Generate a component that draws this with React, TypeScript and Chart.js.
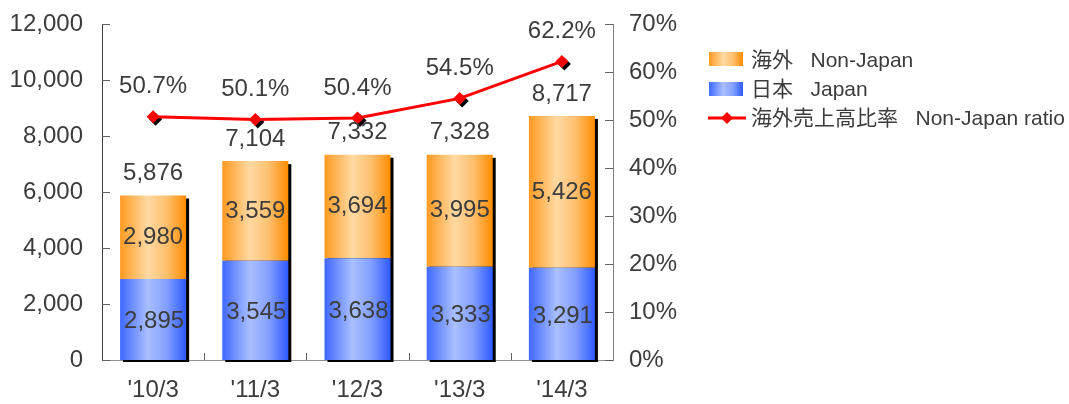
import React, { useEffect, useRef } from "react";
import { Chart, registerables } from "chart.js";

Chart.register(...registerables);

const categories = ["'10/3", "'11/3", "'12/3", "'13/3", "'14/3"];
const japan = [2895, 3545, 3638, 3333, 3291];
const nonJapan = [2980, 3559, 3694, 3995, 5426];
const totals = [5876, 7104, 7332, 7328, 8717];
const ratio = [50.7, 50.1, 50.4, 54.5, 62.2];
const ratioLabels = ["50.7%", "50.1%", "50.4%", "54.5%", "62.2%"];
const seriesNames = ["海外   Non-Japan", "日本   Japan", "海外売上高比率   Non-Japan ratio"];

const FONT = "'Liberation Sans', Arial, 'Noto Sans CJK JP', sans-serif";
const TEXT = "#3c3c3c";

const fmt = (v: number) => v.toLocaleString("en-US");

function barGradient(chart: any, idx: number, stops: [number, string][]) {
  const area = chart.chartArea;
  const xs = chart.scales.x;
  if (!area || !xs) return stops[0][1];
  const cx = xs.getPixelForValue(idx);
  const w = (area.right - area.left) / categories.length * 0.646;
  const g = chart.ctx.createLinearGradient(cx - w / 2, 0, cx + w / 2, 0);
  stops.forEach(([o, c]) => g.addColorStop(o, c));
  return g;
}

const orangeStops: [number, string][] = [
  [0, "#FF9A20"],
  [0.42, "#FFD9A2"],
  [0.7, "#FFC070"],
  [1, "#FF8C00"],
];
const blueStops: [number, string][] = [
  [0, "#3F68FF"],
  [0.42, "#A9BFFF"],
  [0.7, "#84A0FF"],
  [1, "#2F5BFF"],
];

const decorPlugin = {
  id: "decor",
  beforeDatasetsDraw(chart: any) {
    const ctx = chart.ctx;
    const mJ = chart.getDatasetMeta(1);
    const mN = chart.getDatasetMeta(2);
    ctx.save();
    ctx.fillStyle = "#000";
    mN.data.forEach((top: any, i: number) => {
      const bot = mJ.data[i];
      const w = top.width;
      ctx.fillRect(top.x - w / 2 + 3, top.y + 3, w, bot.base - top.y - 1);
    });
    ctx.restore();
  },
  beforeDatasetDraw(chart: any, args: any) {
    if (args.index !== 0) return;
    const ctx = chart.ctx;
    const meta = chart.getDatasetMeta(0);
    ctx.save();
    ctx.fillStyle = "#000";
    meta.data.forEach((p: any) => {
      const r = 6.5;
      const x = p.x + 2.5;
      const y = p.y + 2.5;
      ctx.beginPath();
      ctx.moveTo(x, y - r);
      ctx.lineTo(x + r, y);
      ctx.lineTo(x, y + r);
      ctx.lineTo(x - r, y);
      ctx.closePath();
      ctx.fill();
    });
    ctx.restore();
  },
  afterDatasetsDraw(chart: any) {
    const ctx = chart.ctx;
    const area = chart.chartArea;
    const ys = chart.scales.y;
    const y1 = chart.scales.y1;
    ctx.save();
    ctx.strokeStyle = "#606060";
    ctx.lineWidth = 1;
    ys.ticks.forEach((t: any) => {
      const py = Math.round(ys.getPixelForValue(t.value)) + 0.5;
      ctx.beginPath();
      ctx.moveTo(area.left, py);
      ctx.lineTo(area.left + 8, py);
      ctx.stroke();
    });
    y1.ticks.forEach((t: any) => {
      const py = Math.round(y1.getPixelForValue(t.value)) + 0.5;
      ctx.beginPath();
      ctx.moveTo(area.right, py);
      ctx.lineTo(area.right - 8, py);
      ctx.stroke();
    });
    const cw = (area.right - area.left) / categories.length;
    for (let i = 1; i < categories.length; i++) {
      const px = Math.round(area.left + cw * i) + 0.5;
      ctx.beginPath();
      ctx.moveTo(px, area.bottom);
      ctx.lineTo(px, area.bottom - 7);
      ctx.stroke();
    }
    ctx.fillStyle = TEXT;
    ctx.font = `24px ${FONT}`;
    ctx.textAlign = "center";
    ctx.textBaseline = "middle";
    const mJ = chart.getDatasetMeta(1);
    const mN = chart.getDatasetMeta(2);
    mJ.data.forEach((b: any, i: number) => {
      ctx.fillText(fmt(japan[i]), b.x + 1, (b.y + b.base) / 2 + 2);
    });
    mN.data.forEach((b: any, i: number) => {
      ctx.fillText(fmt(nonJapan[i]), b.x, (b.y + b.base) / 2);
      ctx.fillText(fmt(totals[i]), b.x, b.y - 22);
    });
    const mL = chart.getDatasetMeta(0);
    mL.data.forEach((p: any, i: number) => {
      ctx.fillText(ratioLabels[i], p.x, p.y - 30);
    });
    ctx.restore();
  },
};

export default function App() {
  const ref = useRef<HTMLCanvasElement | null>(null);
  useEffect(() => {
    if (!ref.current) return;
    const chart = new Chart(ref.current, {
      type: "bar",
      data: {
        labels: categories,
        datasets: [
          {
            type: "line",
            label: seriesNames[2],
            data: ratio,
            yAxisID: "y1",
            borderColor: "#FF0000",
            backgroundColor: "#FF0000",
            borderWidth: 3,
            pointStyle: "rectRot",
            pointRadius: 6.5,
            pointBorderWidth: 0,
            pointBackgroundColor: "#FF0000",
            tension: 0,
            order: 0,
          } as any,
          {
            label: seriesNames[1],
            data: japan,
            yAxisID: "y",
            stack: "s",
            backgroundColor: (c: any) => barGradient(c.chart, c.dataIndex, blueStops),
            categoryPercentage: 1,
            barPercentage: 0.646,
            order: 1,
          },
          {
            label: seriesNames[0],
            data: nonJapan,
            yAxisID: "y",
            stack: "s",
            backgroundColor: (c: any) => barGradient(c.chart, c.dataIndex, orangeStops),
            categoryPercentage: 1,
            barPercentage: 0.646,
            order: 2,
          },
        ],
      },
      options: {
        animation: false,
        responsive: false,
        maintainAspectRatio: false,
        layout: { padding: { top: 24, left: 0, right: 0, bottom: 0 } },
        plugins: {
          legend: { display: false },
          tooltip: { enabled: false },
        },
        scales: {
          x: {
            stacked: true,
            grid: { display: false, drawTicks: false },
            border: { display: true, color: "#909090", width: 1 },
            ticks: {
              font: { size: 24, family: FONT },
              color: TEXT,
              padding: 16,
            },
            afterFit: (s: any) => {
              s.height = 44;
              s.paddingLeft = 0;
              s.paddingRight = 0;
            },
          },
          y: {
            stacked: true,
            min: 0,
            max: 12000,
            position: "left",
            grid: { display: false, drawTicks: false },
            border: { display: true, color: "#404040", width: 1 },
            ticks: {
              stepSize: 2000,
              font: { size: 24, family: FONT },
              color: TEXT,
              padding: 19,
              callback: (v: any) => fmt(Number(v)),
            },
            afterFit: (s: any) => {
              s.width = 102;
              s.paddingTop = 0;
              s.paddingBottom = 0;
            },
          },
          y1: {
            min: 0,
            max: 70,
            position: "right",
            grid: { display: false, drawTicks: false },
            border: { display: true, color: "#808080", width: 1 },
            ticks: {
              stepSize: 10,
              font: { size: 24, family: FONT },
              color: TEXT,
              padding: 16,
              callback: (v: any) => `${v}%`,
            },
            afterFit: (s: any) => {
              s.width = 456;
              s.paddingTop = 0;
              s.paddingBottom = 0;
            },
          },
        },
      },
      plugins: [decorPlugin],
    } as any);
    return () => chart.destroy();
  }, []);

  const legendText: React.CSSProperties = {
    position: "absolute",
    left: 751,
    fontFamily: FONT,
    fontSize: 21,
    color: TEXT,
    whiteSpace: "pre",
    lineHeight: "24px",
  };

  return (
    <div style={{ position: "fixed", left: 0, top: 0, width: 1069, height: 404, background: "#fff" }}>
      <canvas ref={ref} width={1069} height={404} style={{ display: "block" }} />
      <div
        style={{
          position: "absolute",
          left: 709,
          top: 52,
          width: 34,
          height: 14,
          background: "linear-gradient(90deg, #FF9A20 0%, #FFD9A2 42%, #FFC070 70%, #FF8C00 100%)",
        }}
      />
      <div style={{ ...legendText, top: 48 }}>{seriesNames[0]}</div>
      <div
        style={{
          position: "absolute",
          left: 709,
          top: 82,
          width: 34,
          height: 14,
          background: "linear-gradient(90deg, #3F68FF 0%, #A9BFFF 42%, #84A0FF 70%, #2F5BFF 100%)",
        }}
      />
      <div style={{ ...legendText, top: 77 }}>{seriesNames[1]}</div>
      <svg style={{ position: "absolute", left: 706, top: 110 }} width={42} height={16}>
        <line x1={2} y1={8} x2={40} y2={8} stroke="#FF0000" strokeWidth={3} />
        <polygon points="21,2 27,8 21,14 15,8" fill="#FF0000" />
      </svg>
      <div style={{ ...legendText, top: 106 }}>{seriesNames[2]}</div>
    </div>
  );
}
